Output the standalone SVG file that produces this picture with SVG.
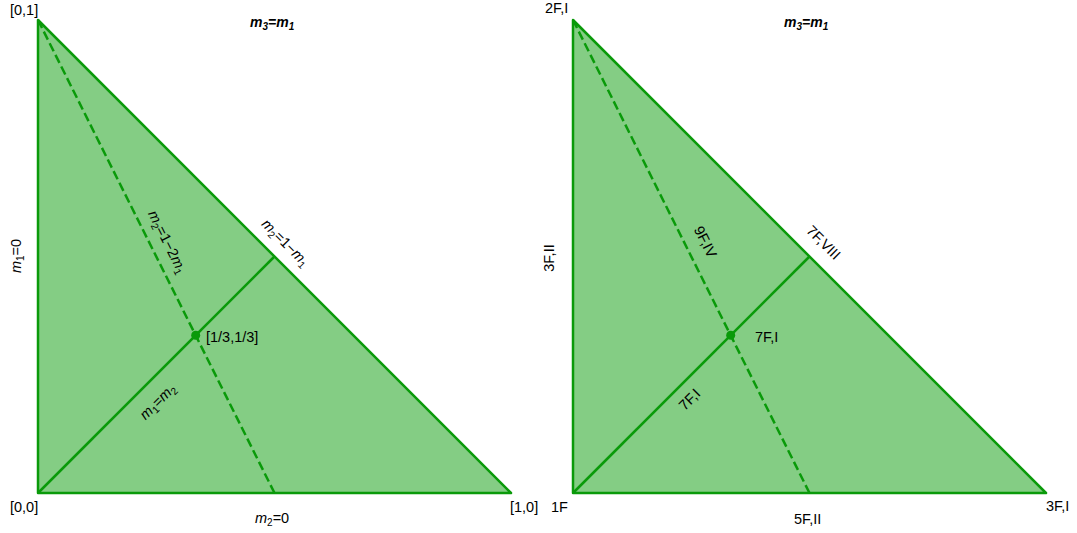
<svg xmlns="http://www.w3.org/2000/svg" width="1077" height="533" viewBox="0 0 1077 533">
<style>
text{font-family:"Liberation Sans",Arial,sans-serif;font-size:14.5px;fill:#000}
.tri{fill:#84cd84;stroke:#0a9a0a;stroke-width:2.5;stroke-linejoin:round}
.ln{stroke:#0a9a0a;stroke-width:2.5;fill:none}
.dash{stroke:#0a9a0a;stroke-width:2.5;fill:none;stroke-dasharray:9 4}
.dot{fill:#0a9a0a}
.bi{font-weight:bold;font-style:italic;font-size:14px}
.i{font-style:italic}
.sub{font-size:10px}
</style>
<g id="left-triangle"><polygon class="tri" points="38,493 38,20 511,493"/></g>
<g id="right-triangle"><polygon class="tri" points="573,493 573,20 1046,493"/></g>
<g id="connectors">
<line class="dash" x1="38" y1="20" x2="274.5" y2="493"/>
<line class="ln" x1="38" y1="493" x2="274.5" y2="256.5"/>
<line class="dash" x1="573" y1="20" x2="809.5" y2="493"/>
<line class="ln" x1="573" y1="493" x2="809.5" y2="256.5"/>
</g>
<g id="left-center"><circle class="dot" cx="195.7" cy="335.3" r="4.5"/></g>
<g id="right-center"><circle class="dot" cx="730.7" cy="335.3" r="4.5"/></g>
<g id="left-labels">
<text x="10" y="15">[0,1]</text>
<text x="250" y="27" class="bi">m<tspan class="sub" dy="3">3</tspan><tspan dy="-3">=m</tspan><tspan class="sub" dy="3">1</tspan></text>
<text x="10" y="512">[0,0]</text>
<text x="255" y="523"><tspan class="i">m</tspan><tspan class="sub" dy="3">2</tspan><tspan dy="-3">=0</tspan></text>
<text x="510" y="512">[1,0]</text>
<text transform="translate(21,256) rotate(-90)" text-anchor="middle"><tspan class="i">m</tspan><tspan class="sub" dy="3">1</tspan><tspan dy="-3">=0</tspan></text>
<text transform="translate(163,244) rotate(63.4)" text-anchor="middle"><tspan class="i">m</tspan><tspan class="sub" dy="3">2</tspan><tspan dy="-3">=1−2</tspan><tspan class="i">m</tspan><tspan class="sub" dy="3">1</tspan></text>
<text transform="translate(282,246) rotate(45)" text-anchor="middle"><tspan class="i">m</tspan><tspan class="sub" dy="3">2</tspan><tspan dy="-3">=1−</tspan><tspan class="i">m</tspan><tspan class="sub" dy="3">1</tspan></text>
<text x="206" y="342">[1/3,1/3]</text>
<text transform="translate(161,405) rotate(-45)" text-anchor="middle"><tspan class="i">m</tspan><tspan class="sub" dy="3">1</tspan><tspan dy="-3">=</tspan><tspan class="i">m</tspan><tspan class="sub" dy="3">2</tspan></text>
</g>
<g id="right-labels">
<text x="545" y="13">2F,I</text>
<text x="784" y="27" class="bi">m<tspan class="sub" dy="3">3</tspan><tspan dy="-3">=m</tspan><tspan class="sub" dy="3">1</tspan></text>
<text x="551" y="512">1F</text>
<text x="794" y="524">5F,II</text>
<text x="1046" y="511">3F,I</text>
<text transform="translate(554,258) rotate(-90)" text-anchor="middle">3F,II</text>
<text transform="translate(701,244) rotate(63.4)" text-anchor="middle">9F,IV</text>
<text transform="translate(820,246) rotate(45)" text-anchor="middle">7F,VIII</text>
<text x="755" y="342">7F,I</text>
<text transform="translate(693,403) rotate(-45)" text-anchor="middle">7F,I</text>
</g>
</svg>
